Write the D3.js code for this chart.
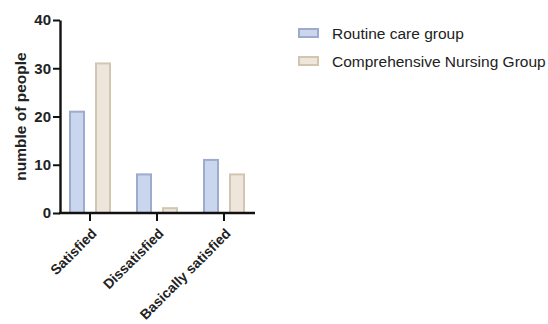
<!DOCTYPE html>
<html><head><meta charset="utf-8">
<script src="https://cdn.jsdelivr.net/npm/d3@7"></script>
<style>body{margin:0;background:#fff}svg{display:block}</style>
</head><body>
<svg id="c" width="548" height="324"></svg>
<script>
const categories = ["Satisfied", "Dissatisfied", "Basically satisfied"];
const seriesNames = ["Routine care group", "Comprehensive Nursing Group"];
const routineCare = [21, 8, 11];
const comprehensiveNursing = [31, 1, 8];
const yTicks = [0, 10, 20, 30, 40];

const fills = ["#c9d6ee", "#eee6da"];
const strokes = ["#9eabcd", "#d2c6b2"];
const FONT = "Liberation Sans, Arial, sans-serif";

const svg = d3.select("#c");
const axisLeftX = 60, axisRightX = 255, yTop = 20, yBottom = 213;

const x = d3.scaleBand().domain(categories).range([57, 257]).paddingInner(0.373).paddingOuter(0.179);
const xs = d3.scaleBand().domain(seriesNames).range([0, x.bandwidth()]).paddingInner(0.385);
const y = d3.scaleLinear().domain([0, 40]).range([yBottom, yTop]);

const data = categories.map((c, i) => ({cat: c, vals: [routineCare[i], comprehensiveNursing[i]]}));

const g = svg.append("g");
data.forEach(d => {
  d.vals.forEach((v, j) => {
    g.append("rect")
      .attr("x", x(d.cat) + xs(seriesNames[j]) + 1)
      .attr("y", y(v))
      .attr("width", xs.bandwidth() - 2)
      .attr("height", y(0) - y(v))
      .attr("fill", fills[j])
      .attr("stroke", strokes[j])
      .attr("stroke-width", 2);
  });
});

// Y axis
const yAxis = svg.append("g").attr("transform", `translate(${axisLeftX},0)`)
  .call(d3.axisLeft(y).tickValues(yTicks).tickSize(7).tickPadding(2).tickSizeOuter(0));
yAxis.select(".domain").attr("stroke", "#111").attr("stroke-width", 2.4);
yAxis.selectAll(".tick line").attr("stroke", "#111").attr("stroke-width", 2);
yAxis.selectAll(".tick text").attr("fill", "#222").style("font-family", FONT).style("font-size", "15px").style("font-weight", "bold");

// X axis
const xAxis = svg.append("g").attr("transform", `translate(0,${y(0)})`)
  .call(d3.axisBottom(x).tickSize(8).tickSizeOuter(0));
xAxis.select(".domain").attr("d", `M${axisLeftX - 1},0H${axisRightX}`).attr("stroke", "#111").attr("stroke-width", 2.4);
xAxis.selectAll(".tick line").attr("stroke", "#111").attr("stroke-width", 2);
xAxis.selectAll(".tick text")
  .attr("fill", "#222")
  .style("font-family", FONT).style("font-size", "14px").style("font-weight", "bold")
  .attr("text-anchor", "end")
  .attr("dominant-baseline", "central")
  .attr("x", 0).attr("y", 0).attr("dy", null)
  .attr("transform", "translate(4,18) rotate(-45)");

// Y title
svg.append("text")
  .attr("transform", `translate(20,${(y(0) + y(40)) / 2}) rotate(-90)`)
  .attr("text-anchor", "middle")
  .attr("dominant-baseline", "central")
  .attr("fill", "#222")
  .style("font-family", FONT).style("font-size", "15.5px").style("font-weight", "bold")
  .text("numble of people");

// Legend
const lg = svg.append("g").attr("transform", "translate(298,28)");
seriesNames.forEach((s, j) => {
  const row = lg.append("g").attr("transform", `translate(0,${j * 28})`);
  row.append("rect").attr("x", 1).attr("y", 1).attr("width", 19).attr("height", 8)
    .attr("fill", fills[j]).attr("stroke", strokes[j]).attr("stroke-width", 2);
  row.append("text").attr("x", 34).attr("y", 5)
    .attr("dominant-baseline", "central")
    .attr("fill", "#222")
    .style("font-family", FONT).style("font-size", "15.5px")
    .text(s);
});
</script>
</body></html>
